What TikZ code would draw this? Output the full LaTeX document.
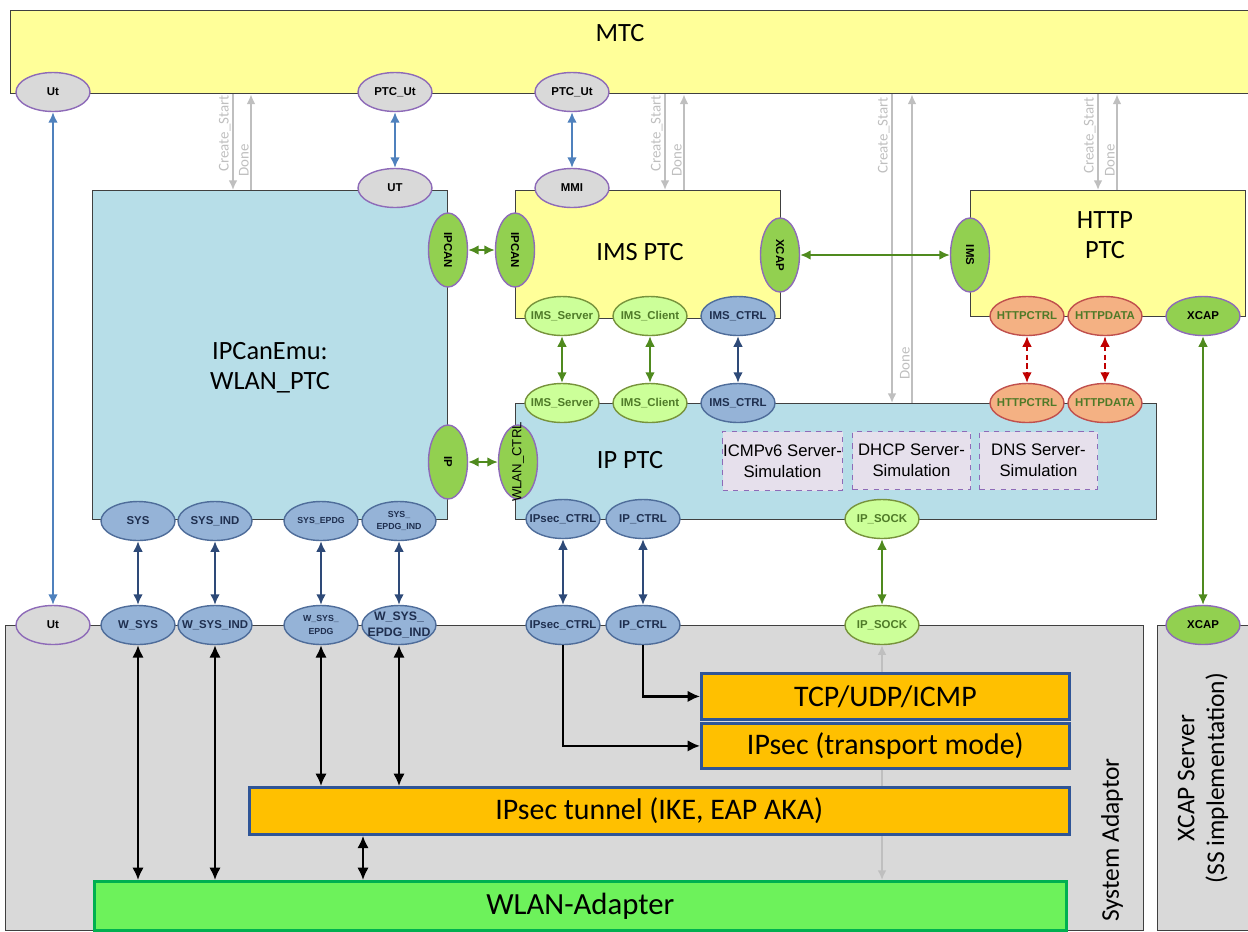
\documentclass[tikz,border=0pt]{standalone}
\usepackage{fontspec}
\setmainfont{Carlito}
\newfontfamily\portfont{Liberation Sans}
\usetikzlibrary{arrows,arrows.meta,shapes}

\definecolor{mtcyellow}{HTML}{FFFF99}
\definecolor{ptcblue}{HTML}{B7DEE8}
\definecolor{sagray}{HTML}{D9D9D9}
\definecolor{portpurple}{HTML}{8E6BB8}
\definecolor{portgreen}{HTML}{92D050}
\definecolor{portlgreen}{HTML}{CCFF99}
\definecolor{portlgreenbd}{HTML}{77933C}
\definecolor{portlgreentx}{HTML}{4F7A28}
\definecolor{portblue}{HTML}{95B3D7}
\definecolor{portbluebd}{HTML}{4F6D9A}
\definecolor{portbluetx}{HTML}{1F2F4F}
\definecolor{portorange}{HTML}{F4B183}
\definecolor{portred}{HTML}{C0504D}
\definecolor{layerorange}{HTML}{FFC000}
\definecolor{layerblue}{HTML}{2F5597}
\definecolor{adaptgreen}{HTML}{6DF25B}
\definecolor{adaptborder}{HTML}{00B050}
\definecolor{simfill}{HTML}{E6E0EC}
\definecolor{ctrlgray}{HTML}{BFBFBF}
\definecolor{utblue}{HTML}{4F81BD}
\definecolor{sysblue}{HTML}{2E4A78}
\definecolor{ipgreen}{HTML}{4F8A1E}
\definecolor{httpred}{HTML}{C00000}

\newcommand{\portlbl}[1]{\makebox[0pt]{\shortstack{#1}}}

\tikzset{
  box/.style={draw=black!75, line width=0.8pt, anchor=north west, inner sep=0pt},
  biglbl/.style={inner sep=0pt, font=\fontsize{15}{17}\selectfont},
  layerbox/.style={box, draw=layerblue, line width=1.6pt, fill=layerorange, font=\fontsize{17}{19}\selectfont},
  adaptbox/.style={box, draw=adaptborder, line width=1.6pt, fill=adaptgreen, font=\fontsize{17.5}{19}\selectfont},
  simbox/.style={box, draw=portpurple, dashed, line width=0.6pt, fill=simfill, align=center, font=\portfont\fontsize{9.5}{12}\selectfont},
  port/.style={ellipse, line width=0.8pt, minimum width=1.48cm, minimum height=0.78cm, inner sep=0pt, font=\portfont\bfseries\fontsize{6.5}{7}\selectfont},
  gport/.style={port, draw=portpurple, fill=sagray},
  grport/.style={port, draw=portpurple, fill=portgreen},
  lgport/.style={port, draw=portlgreenbd, fill=portlgreen, text=portlgreentx},
  bport/.style={port, draw=portbluebd, fill=portblue, text=portbluetx},
  oport/.style={port, draw=portred, fill=portorange, text=portlgreentx},
  tiny/.style={font=\portfont\bfseries\fontsize{5}{5.5}\selectfont},
  ctrl/.style={draw=ctrlgray, line width=1pt, >={Latex[length=5.5pt,width=5pt]}},
  ctrllbl/.style={rotate=90, inner sep=0pt, text=ctrlgray, font=\fontsize{8.5}{9}\selectfont},
  portarr/.style={line width=1pt, >={Latex[length=6pt,width=5.5pt]}, <->},
  utarr/.style={portarr, draw=utblue},
  greenarr/.style={portarr, draw=ipgreen},
  sysarr/.style={portarr, draw=sysblue},
  httparr/.style={portarr, draw=httpred, densely dashed},
  blkarr/.style={draw=black, line width=1.3pt, >={Latex[length=7pt,width=6.5pt]}, <->},
  blk/.style={draw=black, line width=1.3pt, >={Latex[length=7pt,width=6.5pt]}, ->}
}

\begin{document}
\begin{tikzpicture}[x=0.02cm, y=-0.02cm]
\useasboundingbox (0,0) rectangle (1248,931);

%mtc
\node[box, fill=mtcyellow, minimum width=24.76cm, minimum height=1.66cm] (mtc) at (10,10) {};
\node[biglbl] (mtclbl) at (620,33) {MTC};

%ptcs
\node[box, fill=ptcblue, minimum width=7.10cm, minimum height=6.58cm] (wlanptc) at (92,190) {};
\node[biglbl, align=center] (wlanlbl) at (270,368) {IPCanEmu:\\WLAN\_PTC};
\node[box, fill=mtcyellow, minimum width=5.30cm, minimum height=2.56cm] (imsptc) at (515,190) {};
\node[biglbl] (imslbl) at (640,252) {IMS PTC};
\node[box, fill=mtcyellow, minimum width=5.50cm, minimum height=2.52cm] (httpptc) at (970,190) {};
\node[biglbl, align=center] (httplbl) at (1105,235) {HTTP\\PTC};
\node[box, fill=ptcblue, minimum width=12.82cm, minimum height=2.32cm] (ipptc) at (515,403) {};
\node[biglbl] (iplbl) at (630,460) {IP PTC};

%simulations
\node[simbox, minimum width=2.40cm, minimum height=1.18cm] (icmp) at (722,431) {ICMPv6 Server-\\Simulation};
\node[simbox, minimum width=2.36cm, minimum height=1.16cm] (dhcp) at (852,431) {DHCP Server-\\Simulation};
\node[simbox, minimum width=2.36cm, minimum height=1.16cm] (dns) at (979,431) {DNS Server-\\Simulation};

%system adaptor and xcap server
\node[box, fill=sagray, minimum width=22.76cm, minimum height=6.10cm] (sa) at (5,625) {};
\node[biglbl, rotate=90, font=\fontsize{14.5}{16}\selectfont] (salbl) at (1112,840) {System Adaptor};
\node[box, fill=sagray, minimum width=1.86cm, minimum height=6.10cm] (xcapsrv) at (1157,625) {};
\node[biglbl, rotate=90, align=center, font=\fontsize{14.5}{17}\selectfont] (xcaplbl) at (1203,778) {XCAP Server\\(SS implementation)};

%protocol layers
\node[layerbox, minimum width=7.36cm, minimum height=0.92cm] (tcp) at (700,672) {TCP/UDP/ICMP};
\node[layerbox, minimum width=7.36cm, minimum height=0.90cm] (transport) at (700,722) {IPsec (transport mode)};
\node[adaptbox, minimum width=19.44cm, minimum height=0.98cm] (adapter) at (93,880) {WLAN-Adapter};

%mtc ports
\node[gport] (utT) at (53,92) {\portlbl{Ut}};
\node[gport] (ptcut1) at (395,92) {\portlbl{PTC\_Ut}};
\node[gport] (ptcut2) at (572,92) {\portlbl{PTC\_Ut}};
%ims and wlan ptc ports
\node[gport] (ut) at (395,188) {\portlbl{UT}};
\node[gport] (mmi) at (572,188) {\portlbl{MMI}};
\node[grport, rotate=-90] (ipcanL) at (448,250) {\portlbl{IPCAN}};
\node[grport, rotate=-90] (ipcanR) at (515,250) {\portlbl{IPCAN}};
\node[grport, rotate=-90] (xcapI) at (780,255) {\portlbl{XCAP}};
\node[lgport] (imsserverT) at (562,316) {\portlbl{IMS\_Server}};
\node[lgport] (imsclientT) at (650,316) {\portlbl{IMS\_Client}};
\node[bport] (imsctrlT) at (738,316) {\portlbl{IMS\_CTRL}};
%http ptc ports
\node[grport, rotate=-90] (imsH) at (970,255) {\portlbl{IMS}};
\node[oport] (httpctrlT) at (1027,316) {\portlbl{HTTPCTRL}};
\node[oport] (httpdataT) at (1105,316) {\portlbl{HTTPDATA}};
\node[grport] (xcapH) at (1203,316) {\portlbl{XCAP}};
%ip ptc ports
\node[lgport] (imsserverB) at (562,403) {\portlbl{IMS\_Server}};
\node[lgport] (imsclientB) at (650,403) {\portlbl{IMS\_Client}};
\node[bport] (imsctrlB) at (738,403) {\portlbl{IMS\_CTRL}};
\node[oport] (httpctrlB) at (1027,403) {\portlbl{HTTPCTRL}};
\node[oport] (httpdataB) at (1105,403) {\portlbl{HTTPDATA}};
\node[grport, rotate=-90] (ipport) at (448,462) {\portlbl{IP}};
\node[grport, rotate=90, font=\portfont\fontsize{7.5}{8}\selectfont] (wlanctrl) at (518,462) {\portlbl{WLAN\_CTRL}};
\node[bport] (ipsecT) at (563,519) {\portlbl{IPsec\_CTRL}};
\node[bport] (ipctrlT) at (643,519) {\portlbl{IP\_CTRL}};
\node[lgport] (ipsockT) at (882,519) {\portlbl{IP\_SOCK}};
%wlan ptc system ports
\node[bport] (sys) at (138,521) {\portlbl{SYS}};
\node[bport] (sysind) at (215,521) {\portlbl{SYS\_IND}};
\node[bport, tiny] (sysepdg) at (321,521) {\portlbl{SYS\_EPDG}};
\node[bport, tiny] (sysepdgind) at (399,521) {\portlbl{SYS\_\\EPDG\_IND}};
%system adaptor ports
\node[gport] (utB) at (53,625) {\portlbl{Ut}};
\node[bport] (wsys) at (138,625) {\portlbl{W\_SYS}};
\node[bport] (wsysind) at (215,625) {\portlbl{W\_SYS\_IND}};
\node[bport, tiny] (wsysepdg) at (321,625) {\portlbl{W\_SYS\_\\EPDG}};
\node[bport, font=\portfont\bfseries\fontsize{7}{7}\selectfont] (wsysepdgind) at (399,625) {\portlbl{W\_SYS\_\\EPDG\_IND}};
\node[bport] (ipsecB) at (563,625) {\portlbl{IPsec\_CTRL}};
\node[bport] (ipctrlB) at (643,625) {\portlbl{IP\_CTRL}};
\node[lgport] (ipsockB) at (882,625) {\portlbl{IP\_SOCK}};
\node[grport] (xcapS) at (1203,625) {\portlbl{XCAP}};

%create / done
\draw[ctrl,->] (233,0 |- mtc.south) -- (233,0 |- wlanptc.north);
\draw[ctrl,->] (251,0 |- wlanptc.north) -- (251,0 |- mtc.south);
\node[ctrllbl, anchor=south east] (cs1) at (231,95) {Create\_Start};
\node[ctrllbl, anchor=south west] (dn1) at (249,177) {Done};
\draw[ctrl,->] (665,0 |- mtc.south) -- (665,0 |- imsptc.north);
\draw[ctrl,->] (684,0 |- imsptc.north) -- (684,0 |- mtc.south);
\node[ctrllbl, anchor=south east] (cs2) at (663,95) {Create\_Start};
\node[ctrllbl, anchor=south west] (dn2) at (682,177) {Done};
\draw[ctrl,->] (892,0 |- mtc.south) -- (892,0 |- ipptc.north);
\draw[ctrl,->] (912,0 |- ipptc.north) -- (912,0 |- mtc.south);
\node[ctrllbl, anchor=south east] (cs3) at (890,97) {Create\_Start};
\node[ctrllbl, anchor=south west] (dn3) at (910,380) {Done};
\draw[ctrl,->] (1098,0 |- mtc.south) -- (1098,0 |- httpptc.north);
\draw[ctrl,->] (1117,0 |- httpptc.north) -- (1117,0 |- mtc.south);
\node[ctrllbl, anchor=south east] (cs4) at (1096,97) {Create\_Start};
\node[ctrllbl, anchor=south west] (dn4) at (1115,177) {Done};

%ip socket data path
\draw[ctrl,->] (tcp.north -| ipsockB) -- (ipsockB);
\draw[ctrl,->] (transport.south -| ipsockB) -- (adapter.north -| ipsockB);
\node[layerbox, minimum width=16.40cm, minimum height=0.94cm] (tunnel) at (248,786) {IPsec tunnel (IKE, EAP AKA)};

%mtc <-> ptcs
\draw[utarr] (utT) -- (utB);
\draw[utarr] (ptcut1) -- (ut);
\draw[utarr] (ptcut2) -- (mmi);
%ptc <-> ptc
\draw[greenarr] (ipcanL) -- (ipcanR);
\draw[greenarr] (xcapI) -- (imsH);
\draw[greenarr] (ipport) -- (wlanctrl);
\draw[greenarr] (imsserverT) -- (imsserverB);
\draw[greenarr] (imsclientT) -- (imsclientB);
\draw[sysarr] (imsctrlT) -- (imsctrlB);
\draw[httparr] (httpctrlT) -- (httpctrlB);
\draw[httparr] (httpdataT) -- (httpdataB);
\draw[greenarr] (xcapH) -- (xcapS);
%ptc <-> system adaptor
\draw[sysarr] (sys) -- (wsys);
\draw[sysarr] (sysind) -- (wsysind);
\draw[sysarr] (sysepdg) -- (wsysepdg);
\draw[sysarr] (sysepdgind) -- (wsysepdgind);
\draw[sysarr] (ipsecT) -- (ipsecB);
\draw[sysarr] (ipctrlT) -- (ipctrlB);
\draw[greenarr] (ipsockT) -- (ipsockB);
%inside system adaptor
\coordinate (tx) at (363,0);
\draw[blkarr] (wsys) -- (wsys |- adapter.north);
\draw[blkarr] (wsysind) -- (wsysind |- adapter.north);
\draw[blkarr] (wsysepdg) -- (wsysepdg |- tunnel.north);
\draw[blkarr] (wsysepdgind) -- (wsysepdgind |- tunnel.north);
\draw[blkarr] (tunnel.south -| tx) -- (adapter.north -| tx);
\draw[blk] (ipctrlB.south) |- (tcp.west);
\draw[blk] (ipsecB.south) |- (transport.west);

\end{tikzpicture}
\end{document}
